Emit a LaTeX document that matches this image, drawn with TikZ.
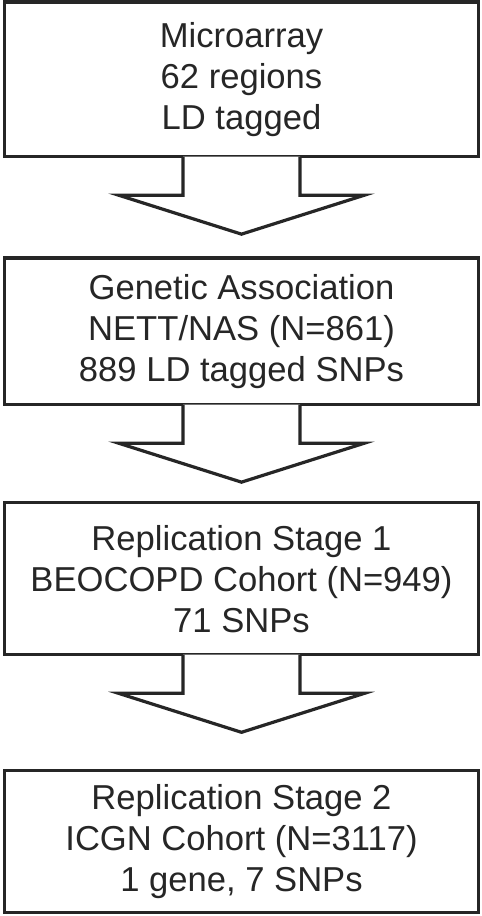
\documentclass[tikz,border=0pt]{standalone}
\usepackage{fontspec}
\setmainfont{Liberation Sans}
\usetikzlibrary{calc}
\tikzset{
    stagebox/.style={draw=black!85, line width=3.2pt, fill=white, minimum width=474pt,
        inner sep=0pt, align=center, text=black!85, font=\fontsize{34.6}{41}\selectfont},
    blockarrow/.style={draw=black!85, line width=3.2pt, fill=white, line join=miter},
}
\begin{document}
\begin{tikzpicture}[x=1pt,y=1pt]
    \useasboundingbox (0,0) rectangle (482,-916);
    \node[stagebox, minimum height=154.5pt] (M) at (241.5,-79.3) {Microarray\\62 regions\\LD tagged};
    \node[stagebox, minimum height=146.5pt] (G) at (241.5,-331.3) {Genetic Association\\NETT/NAS (N=861)\\889 LD tagged SNPs};
    \node[stagebox, minimum height=152pt] (B) at (241.5,-578.7) {Replication Stage 1\\BEOCOPD Cohort (N=949)\\71 SNPs};
    \node[stagebox, minimum height=142pt] (I) at (241.5,-841.4) {Replication Stage 2\\ICGN Cohort (N=3117)\\1 gene, 7 SNPs};
    % block arrows hanging below the boxes
    \foreach \n in {M,G,B}
        \filldraw[blockarrow] ($(\n.south)+(-58.5,1.6)$) -- ++(0,-38.6) -- ++(-64.5,0)
            -- ($(\n.south)+(0,-76)$) -- ($(\n.south)+(123,-37)$) -- ++(-64.5,0) -- ++(0,38.6);
\end{tikzpicture}
\end{document}
